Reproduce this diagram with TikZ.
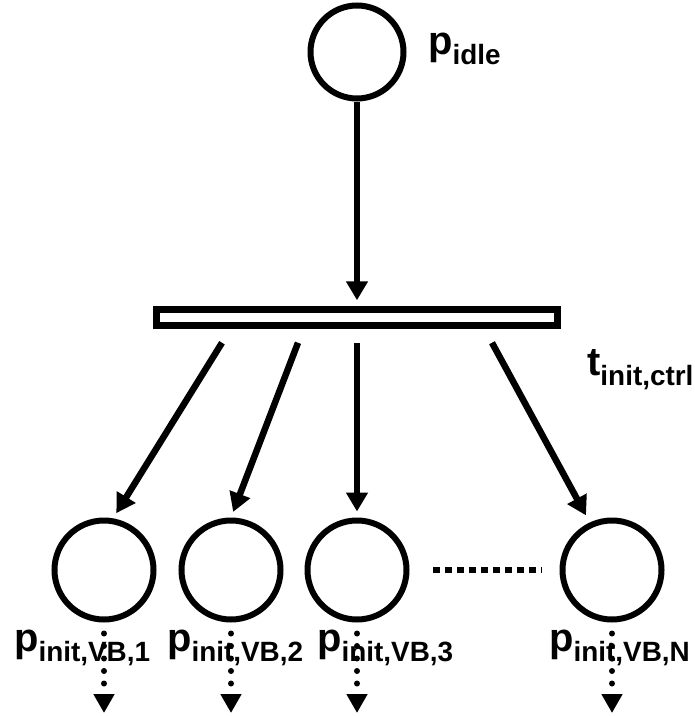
\documentclass[tikz,border=0pt]{standalone}
\usepackage{fontspec}
\setmainfont{Liberation Sans}
\usetikzlibrary{arrows.meta}

\newcommand{\pnname}[2]{{\fontsize{40}{40}\selectfont #1}\raisebox{-10bp}{\fontsize{28}{28}\selectfont #2}}

\tikzset{
    place/.style = {circle, draw, line width=6bp, minimum size=#1, inner sep=0pt},
    place/.default = 99bp,
    trans/.style = {rectangle, draw, line width=6.5bp, minimum width=401bp, minimum height=16bp, inner sep=0pt},
    flow/.style = {line width=6.5bp, -{Triangle[width=21bp, length=19bp]}},
    dotflow/.style = {line width=6bp, line cap=round, dash pattern=on 0bp off 12.5bp,
        shorten <=11bp, -{Triangle[width=20bp, length=19bp]}},
    dotline/.style = {line width=6bp, dash pattern=on 7bp off 5bp, shorten <=23.5bp, shorten >=17.5bp},
    lbl/.style = {anchor=base west, inner sep=0pt, font=\bfseries}
}

\begin{document}
\begin{tikzpicture}[x=1bp, y=-1bp]
    \useasboundingbox (0,0) rectangle (695,716);

    \node[place=93bp] (idle) at (357,52) {};
    \node[trans] (ctrl) at (357,317.5) {};
    \node[place] (vb1) at (104,570) {};
    \node[place] (vb2) at (231,570) {};
    \node[place] (vb3) at (357,570) {};
    \node[place] (vbN) at (612,570) {};

    \node[lbl] (lidle) at (428,55) {\pnname{p}{idle}};
    \node[lbl] (lctrl) at (587,375) {\pnname{t}{init,ctrl}};
    \node[lbl] (l1) at (14,651) {\pnname{p}{init,VB,1}};
    \node[lbl] (l2) at (167,651) {\pnname{p}{init,VB,2}};
    \node[lbl] (l3) at (317,651) {\pnname{p}{init,VB,3}};
    \node[lbl] (lN) at (549,651) {\pnname{p}{init,VB,N}};

    \draw[flow, shorten >=6bp] (idle) -- (ctrl);
    \draw[flow, shorten >=6bp] ([xshift=-135bp, yshift=-14bp]ctrl.south) -- (vb1.80);
    \draw[flow, shorten >=6bp] ([xshift=-59bp, yshift=-14bp]ctrl.south) -- (vb2.north);
    \draw[flow, shorten >=6bp] ([yshift=-14bp]ctrl.south) -- (vb3.north);
    \draw[flow, shorten >=8bp] ([xshift=135bp, yshift=-14bp]ctrl.south) -- (vbN.115);

    \draw[dotline] (vb3) -- (vbN);

    \foreach \p in {vb1, vb2, vb3, vbN} {
        \coordinate (\p-out) at (\p |- 0,713);
        \draw[dotflow] (\p) -- (\p-out);
    }
\end{tikzpicture}
\end{document}
